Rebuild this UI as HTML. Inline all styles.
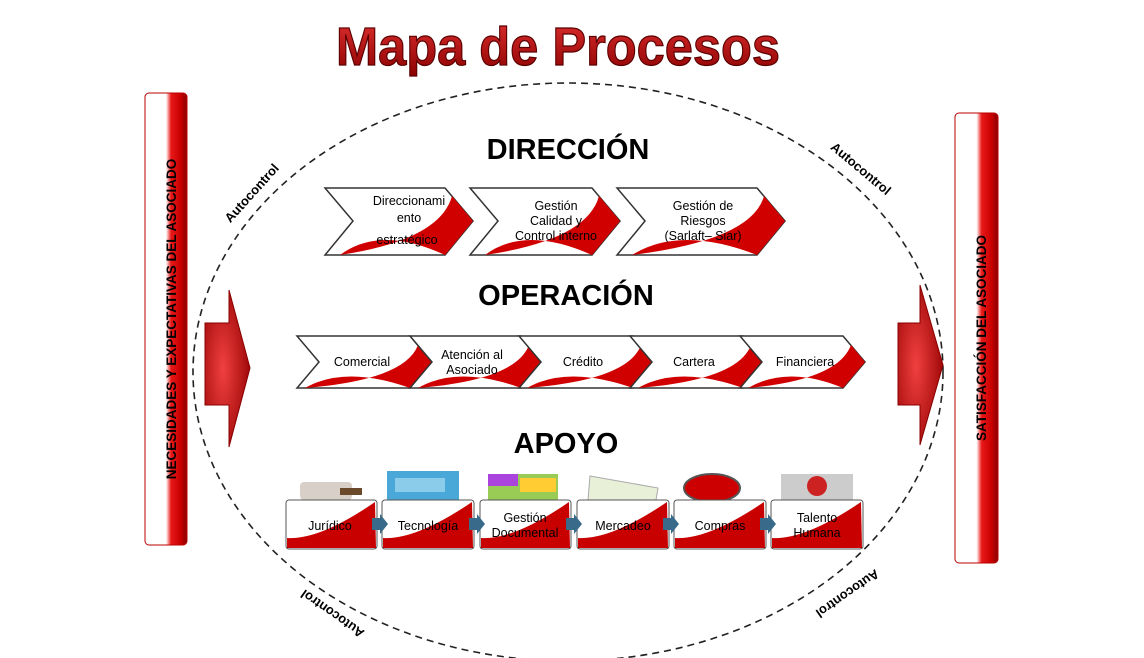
<!DOCTYPE html>
<html><head><meta charset="utf-8"><style>
html,body{margin:0;padding:0;background:#fff;width:1144px;height:658px;overflow:hidden}
svg{display:block;font-family:"Liberation Sans",sans-serif}
</style></head><body>
<svg width="1144" height="658" viewBox="0 0 1144 658">
<defs>
<linearGradient id="bar" x1="0" x2="1" y1="0" y2="0">
<stop offset="0" stop-color="#fff"/><stop offset="0.5" stop-color="#fff"/><stop offset="0.62" stop-color="#e81818"/><stop offset="0.85" stop-color="#c80000"/><stop offset="1" stop-color="#8a0000"/>
</linearGradient>
<radialGradient id="arr" cx="0.4" cy="0.5" r="0.6">
<stop offset="0" stop-color="#f04040"/><stop offset="1" stop-color="#a00808"/>
</radialGradient>
<linearGradient id="title" x1="0" x2="0" y1="0" y2="1">
<stop offset="0" stop-color="#e03030"/><stop offset="1" stop-color="#8a0000"/>
</linearGradient>
</defs>

<text x="336" y="65" textLength="444" lengthAdjust="spacingAndGlyphs" font-size="54" font-weight="bold" fill="url(#title)" stroke="#5a0000" stroke-width="1.2">Mapa de Procesos</text>

<ellipse cx="568" cy="372" rx="375" ry="289" fill="none" stroke="#222" stroke-width="1.6" stroke-dasharray="7,5"/>

<rect x="145" y="93" width="42" height="452" rx="4" fill="url(#bar)" stroke="#b00" stroke-width="1"/>
<text transform="translate(176,319) rotate(-90)" text-anchor="middle" font-size="13.5" font-weight="bold">NECESIDADES Y EXPECTATIVAS DEL ASOCIADO</text>
<rect x="955" y="113" width="43" height="450" rx="4" fill="url(#bar)" stroke="#b00" stroke-width="1"/>
<text transform="translate(986,338) rotate(-90)" text-anchor="middle" font-size="13.5" font-weight="bold">SATISFACCIÓN DEL ASOCIADO</text>

<path d="M205 323 L229 323 L229 290 L250 368 L229 447 L229 405 L205 405 Z" fill="url(#arr)" stroke="#800" stroke-width="1"/>
<path d="M898 323 L920 323 L920 285 L943 365 L920 445 L920 405 L898 405 Z" fill="url(#arr)" stroke="#800" stroke-width="1"/>

<text transform="translate(255,196) rotate(-48)" text-anchor="middle" font-size="13" font-weight="bold">Autocontrol</text>
<text transform="translate(858,172) rotate(40)" text-anchor="middle" font-size="13" font-weight="bold">Autocontrol</text>
<text transform="translate(335,610) rotate(-145)" text-anchor="middle" font-size="13" font-weight="bold">Autocontrol</text>
<text transform="translate(845,590) rotate(145)" text-anchor="middle" font-size="13" font-weight="bold">Autocontrol</text>

<text x="568" y="159" text-anchor="middle" font-size="29" font-weight="bold">DIRECCIÓN</text>
<text x="566" y="305" text-anchor="middle" font-size="29" font-weight="bold">OPERACIÓN</text>
<text x="566" y="453" text-anchor="middle" font-size="29" font-weight="bold">APOYO</text>

<g stroke="#333" stroke-width="1.5">
<path d="M325 188 L445 188 L473 221 L445 255 L325 255 L353 221 Z" fill="#fff"/>
<path d="M340 255 Q380 225 445 255 L473 221 L452 196 Q440 240 340 255Z" fill="#d10000" stroke="none"/>
<path d="M470 188 L592 188 L620 221 L592 255 L470 255 L498 221 Z" fill="#fff"/>
<path d="M485 255 Q525 225 592 255 L620 221 L599 196 Q587 240 485 255Z" fill="#d10000" stroke="none"/>
<path d="M617 188 L757 188 L785 221 L757 255 L617 255 L645 221 Z" fill="#fff"/>
<path d="M632 255 Q680 225 757 255 L785 221 L764 196 Q752 240 632 255Z" fill="#d10000" stroke="none"/>
</g>
<g font-size="12.5" text-anchor="middle">
<text x="409" y="205">Direccionami</text><text x="409" y="222">ento</text><text x="407" y="244">estratégico</text>
<text x="556" y="210">Gestión</text><text x="556" y="225">Calidad y</text><text x="556" y="240">Control interno</text>
<text x="703" y="210">Gestión de</text><text x="703" y="225">Riesgos</text><text x="703" y="240">(Sarlaft– Siar)</text>
</g>

<g stroke="#333" stroke-width="1.5">
<path d="M297 336 L410 336 L432 362 L410 388 L297 388 L319 362 Z" fill="#fff"/>
<path d="M305 388 Q345 365 410 388 L432 362 L418 345 Q405 380 305 388Z" fill="#d10000" stroke="none"/>
<path d="M410 336 L521 336 L543 362 L521 388 L410 388 L432 362 Z" fill="#fff"/>
<path d="M418 388 Q458 365 521 388 L543 362 L529 345 Q516 380 418 388Z" fill="#d10000" stroke="none"/>
<path d="M519 336 L633 336 L655 362 L633 388 L519 388 L541 362 Z" fill="#fff"/>
<path d="M527 388 Q567 365 633 388 L655 362 L641 345 Q628 380 527 388Z" fill="#d10000" stroke="none"/>
<path d="M630 336 L743 336 L765 362 L743 388 L630 388 L652 362 Z" fill="#fff"/>
<path d="M638 388 Q678 365 743 388 L765 362 L751 345 Q738 380 638 388Z" fill="#d10000" stroke="none"/>
<path d="M740 336 L843 336 L865 362 L843 388 L740 388 L762 362 Z" fill="#fff"/>
<path d="M748 388 Q788 365 843 388 L865 362 L851 345 Q838 380 748 388Z" fill="#d10000" stroke="none"/>
</g>
<g font-size="12.5" text-anchor="middle">
<text x="362" y="366">Comercial</text>
<text x="472" y="359">Atención al</text><text x="472" y="374">Asociado</text>
<text x="583" y="366">Crédito</text>
<text x="694" y="366">Cartera</text>
<text x="805" y="366">Financiera</text>
</g>

<rect x="300" y="482" width="52" height="18" rx="4" fill="#d8cfc8"/><rect x="340" y="488" width="22" height="7" fill="#6a4a2a"/>
<rect x="387" y="471" width="72" height="29" fill="#4aa8d8"/><rect x="395" y="478" width="50" height="14" fill="#b8e4f8" opacity="0.6"/>
<rect x="488" y="474" width="70" height="26" fill="#9c5"/><rect x="488" y="474" width="30" height="12" fill="#a4d"/><rect x="520" y="478" width="36" height="14" fill="#fc3"/>
<path d="M590 476 L658 488 L656 500 L588 500 Z" fill="#e8f0d8" stroke="#aaa"/>
<ellipse cx="712" cy="488" rx="28" ry="14" fill="#c00" stroke="#555" stroke-width="2"/>
<rect x="781" y="474" width="72" height="26" fill="#ccc"/><circle cx="817" cy="486" r="10" fill="#c22"/>

<g stroke="#555" stroke-width="1">
<rect x="286" y="500" width="91" height="49" rx="3" fill="#fff"/>
<rect x="382" y="500" width="92" height="49" rx="3" fill="#fff"/>
<rect x="480" y="500" width="91" height="49" rx="3" fill="#fff"/>
<rect x="577" y="500" width="92" height="49" rx="3" fill="#fff"/>
<rect x="674" y="500" width="92" height="49" rx="3" fill="#fff"/>
<rect x="771" y="500" width="92" height="49" rx="3" fill="#fff"/>
</g>
<g fill="#c80000">
<path d="M287 548 L287 538 Q320 540 375 502 L376 548 Z"/>
<path d="M383 548 L383 538 Q416 540 472 502 L473 548 Z"/>
<path d="M481 548 L481 538 Q514 540 569 502 L570 548 Z"/>
<path d="M578 548 L578 538 Q611 540 667 502 L668 548 Z"/>
<path d="M675 548 L675 538 Q708 540 764 502 L765 548 Z"/>
<path d="M772 548 L772 538 Q805 540 861 502 L862 548 Z"/>
</g>
<g fill="#3a6a8a">
<path d="M372 518 L380 518 L380 514 L388 524 L380 534 L380 530 L372 530Z"/>
<path d="M469 518 L477 518 L477 514 L485 524 L477 534 L477 530 L469 530Z"/>
<path d="M566 518 L574 518 L574 514 L582 524 L574 534 L574 530 L566 530Z"/>
<path d="M663 518 L671 518 L671 514 L679 524 L671 534 L671 530 L663 530Z"/>
<path d="M760 518 L768 518 L768 514 L776 524 L768 534 L768 530 L760 530Z"/>
</g>
<g font-size="12.5" text-anchor="middle">
<text x="330" y="530">Jurídico</text>
<text x="428" y="530">Tecnología</text>
<text x="525" y="522">Gestión</text><text x="525" y="537">Documental</text>
<text x="623" y="530">Mercadeo</text>
<text x="720" y="530">Compras</text>
<text x="817" y="522">Talento</text><text x="817" y="537">Humana</text>
</g>
</svg>
</body></html>
